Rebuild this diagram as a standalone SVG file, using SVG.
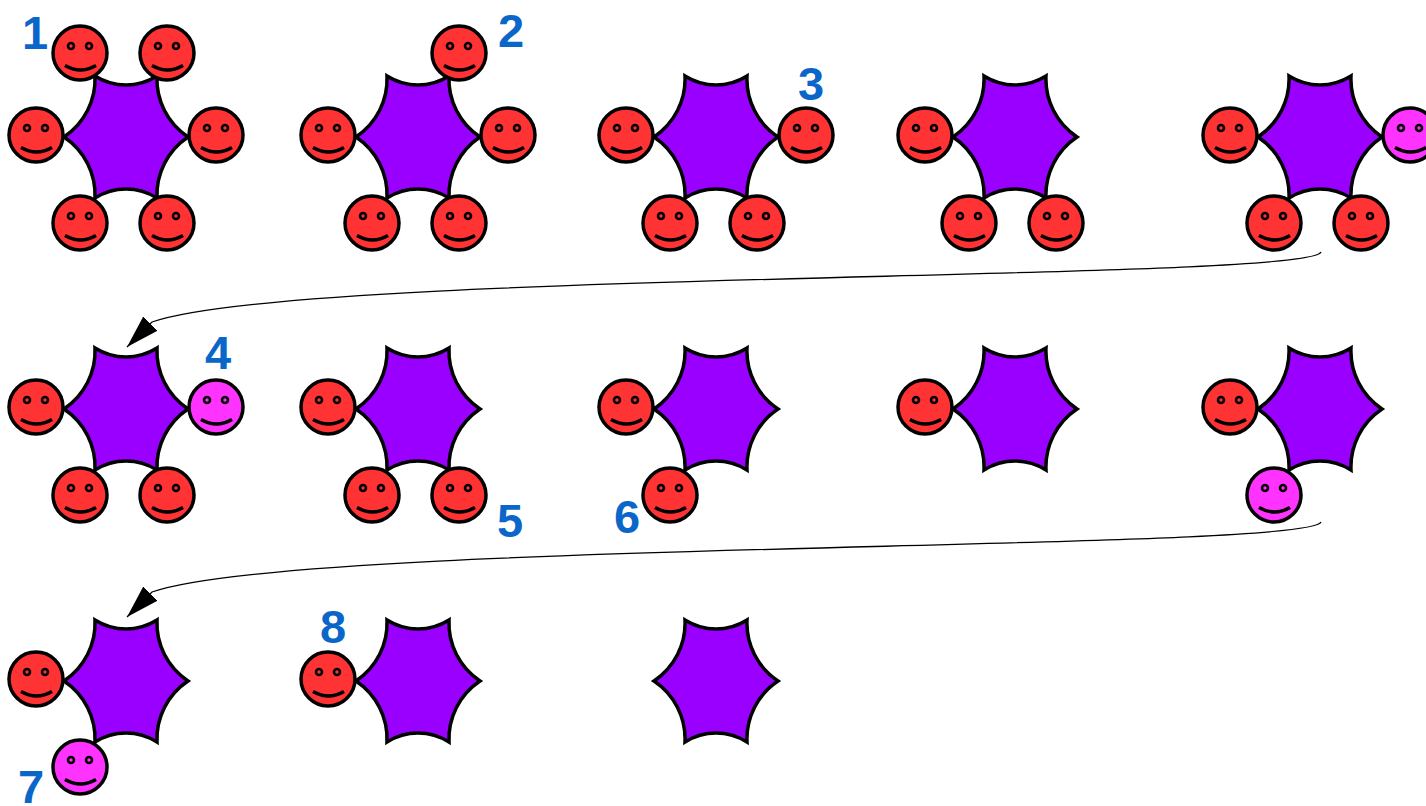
<svg xmlns="http://www.w3.org/2000/svg" xmlns:xlink="http://www.w3.org/1999/xlink" width="1426" height="806" viewBox="0 0 1426 806">
  <style>
    .star { fill: #9900ff; stroke: #000; stroke-width: 3.5; stroke-linejoin: miter; }
    .red { fill: #ff3333; }
    .pink { fill: #ff33ff; }
    .face-ring { stroke: #000; stroke-width: 3.5; }
    .eye { stroke: #000; stroke-width: 2.6; }
    .mouth { fill: none; stroke: #000; stroke-width: 3.5; }
    .num { font-family: "Liberation Sans", Arial, sans-serif; font-weight: bold; font-size: 47px; fill: #0a66c8; text-anchor: middle; }
    .link { fill: none; stroke: #000; stroke-width: 1.3; }
  </style>
  <defs>
    <!-- six-pointed star with concave edges, centred on the origin -->
    <path id="star" class="star" d="M-31,-61 A58,58 0 0 0 31,-61 A69.5,69.5 0 0 0 62,0 A69.5,69.5 0 0 0 31,61 A58,58 0 0 0 -31,61 A69.5,69.5 0 0 0 -62,0 A69.5,69.5 0 0 0 -31,-61 Z"/>
    <!-- smiley face; fill comes from the referencing element -->
    <g id="face">
      <circle class="face-ring" r="27"/>
      <circle class="eye" cx="-9" cy="-7" r="3"/>
      <circle class="eye" cx="9" cy="-7" r="3"/>
      <path class="mouth" d="M-15,12.5 Q0.5,21.5 16,12.5"/>
    </g>
    <marker id="arrow" markerUnits="userSpaceOnUse" markerWidth="34" markerHeight="22" refX="33" refY="10" orient="auto">
      <path d="M0,0 L33,10 L0,20 Z" fill="#000"/>
    </marker>
  </defs>

  <!-- connectors -->
  <g id="connectors">
    <path class="link" d="M1321,252 C1310,282 300,270 152,322 L127,347" marker-end="url(#arrow)"/>
    <path class="link" d="M1321,522 C1310,552 300,540 152,592 L127,617" marker-end="url(#arrow)"/>
  </g>

  <!-- row 1 -->
  <g id="step-1">
    <use xlink:href="#star" x="126" y="137"/>
    <use xlink:href="#face" class="red" x="80" y="53"/>
    <use xlink:href="#face" class="red" x="167" y="53"/>
    <use xlink:href="#face" class="red" x="36" y="135"/>
    <use xlink:href="#face" class="red" x="216" y="135"/>
    <use xlink:href="#face" class="red" x="80" y="223"/>
    <use xlink:href="#face" class="red" x="167" y="223"/>
    <text class="num" x="35" y="49">1</text>
  </g>
  <g id="step-2">
    <use xlink:href="#star" x="418" y="137"/>
    <use xlink:href="#face" class="red" x="459" y="53"/>
    <use xlink:href="#face" class="red" x="328" y="135"/>
    <use xlink:href="#face" class="red" x="508" y="135"/>
    <use xlink:href="#face" class="red" x="372" y="223"/>
    <use xlink:href="#face" class="red" x="459" y="223"/>
    <text class="num" x="511" y="47">2</text>
  </g>
  <g id="step-3">
    <use xlink:href="#star" x="716" y="137"/>
    <use xlink:href="#face" class="red" x="626" y="135"/>
    <use xlink:href="#face" class="red" x="806" y="135"/>
    <use xlink:href="#face" class="red" x="670" y="223"/>
    <use xlink:href="#face" class="red" x="757" y="223"/>
    <text class="num" x="811" y="100">3</text>
  </g>
  <g id="step-3b">
    <use xlink:href="#star" x="1015" y="137"/>
    <use xlink:href="#face" class="red" x="925" y="135"/>
    <use xlink:href="#face" class="red" x="969" y="223"/>
    <use xlink:href="#face" class="red" x="1056" y="223"/>
  </g>
  <g id="step-3c">
    <use xlink:href="#star" x="1320" y="137"/>
    <use xlink:href="#face" class="red" x="1230" y="135"/>
    <use xlink:href="#face" class="pink" x="1410" y="135"/>
    <use xlink:href="#face" class="red" x="1274" y="223"/>
    <use xlink:href="#face" class="red" x="1361" y="223"/>
  </g>

  <!-- row 2 -->
  <g id="step-4">
    <use xlink:href="#star" x="126" y="409"/>
    <use xlink:href="#face" class="red" x="36" y="407"/>
    <use xlink:href="#face" class="pink" x="216" y="407"/>
    <use xlink:href="#face" class="red" x="80" y="495"/>
    <use xlink:href="#face" class="red" x="167" y="495"/>
    <text class="num" x="218" y="369">4</text>
  </g>
  <g id="step-5">
    <use xlink:href="#star" x="418" y="409"/>
    <use xlink:href="#face" class="red" x="328" y="407"/>
    <use xlink:href="#face" class="red" x="372" y="495"/>
    <use xlink:href="#face" class="red" x="459" y="495"/>
    <text class="num" x="510" y="537">5</text>
  </g>
  <g id="step-6">
    <use xlink:href="#star" x="716" y="409"/>
    <use xlink:href="#face" class="red" x="626" y="407"/>
    <use xlink:href="#face" class="red" x="670" y="495"/>
    <text class="num" x="627" y="533">6</text>
  </g>
  <g id="step-6b">
    <use xlink:href="#star" x="1015" y="409"/>
    <use xlink:href="#face" class="red" x="925" y="407"/>
  </g>
  <g id="step-6c">
    <use xlink:href="#star" x="1320" y="409"/>
    <use xlink:href="#face" class="red" x="1230" y="407"/>
    <use xlink:href="#face" class="pink" x="1274" y="495"/>
  </g>

  <!-- row 3 -->
  <g id="step-7">
    <use xlink:href="#star" x="126" y="681"/>
    <use xlink:href="#face" class="red" x="36" y="679"/>
    <use xlink:href="#face" class="pink" x="80" y="767"/>
    <text class="num" x="31" y="803">7</text>
  </g>
  <g id="step-8">
    <use xlink:href="#star" x="418" y="681"/>
    <use xlink:href="#face" class="red" x="328" y="679"/>
    <text class="num" x="333" y="643">8</text>
  </g>
  <g id="step-9">
    <use xlink:href="#star" x="716" y="681"/>
  </g>
</svg>
